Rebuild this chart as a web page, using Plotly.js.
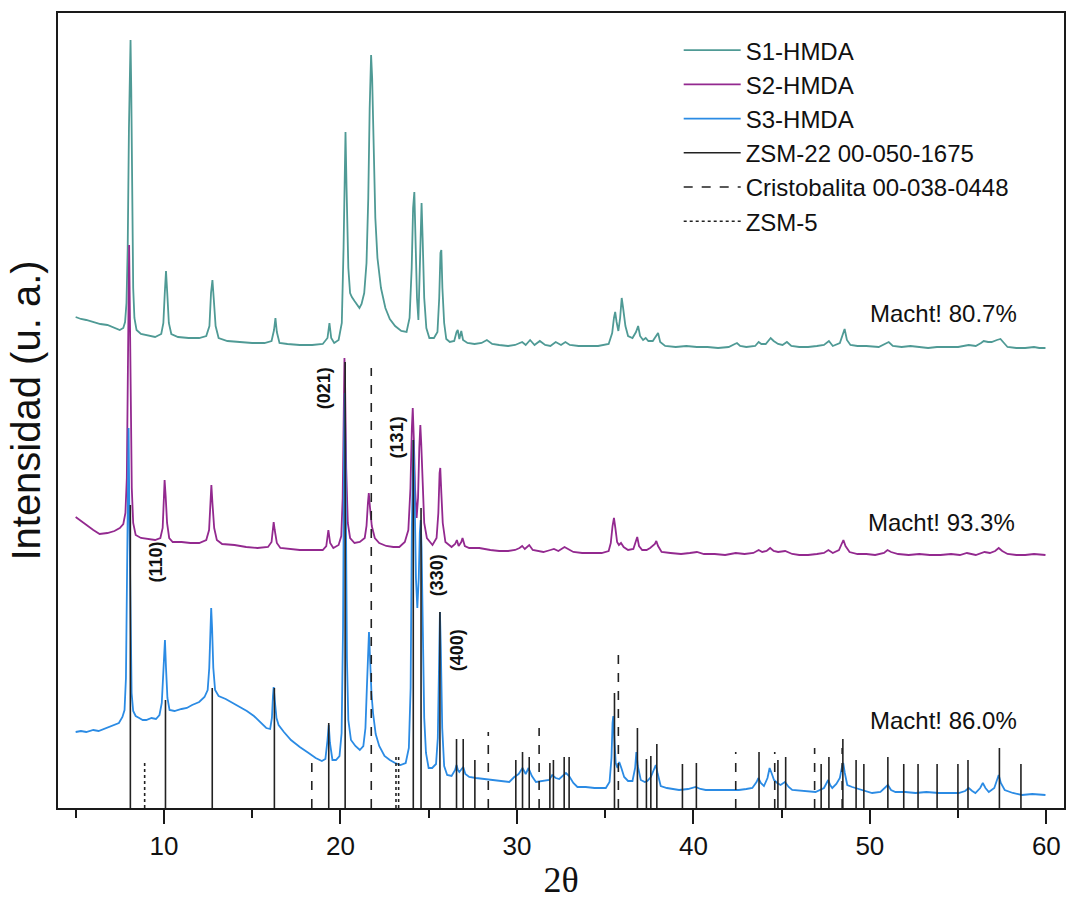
<!DOCTYPE html>
<html>
<head>
<meta charset="utf-8">
<script src="https://cdn.plot.ly/plotly-3.0.1.min.js"></script>
<style>html,body{margin:0;padding:0;background:#fff;}#chart{width:1067px;height:900px;}</style>
</head>
<body>
<div id="chart"></div>
<script>
// ---------- data: [2θ (deg), intensity (a.u.)] ----------
const seriesNames = ["S1-HMDA", "S2-HMDA", "S3-HMDA"];
const refNames = ["ZSM-22 00-050-1675", "Cristobalita 00-038-0448", "ZSM-5"];

const s1Data = [[5.0,491],[5.3,489],[5.6,488],[6.0,486],[6.4,484],[6.8,483],[7.2,480],[7.5,478],[7.7,480],[7.8,486],[7.88,505],[7.95,560],[8.02,680],[8.08,760],[8.11,768],[8.15,720],[8.2,600],[8.26,520],[8.33,490],[8.45,478],[8.7,474],[9.0,473],[9.5,471],[9.85,474],[9.97,485],[10.05,515],[10.12,537],[10.19,515],[10.28,485],[10.42,474],[10.8,471],[11.4,470],[12.0,470],[12.4,472],[12.58,482],[12.67,515],[12.75,528],[12.83,508],[12.93,482],[13.1,470],[13.6,467],[14.3,466],[15.0,465],[15.7,465],[16.1,467],[16.24,478],[16.32,490],[16.4,476],[16.55,465],[17.0,464],[17.7,463],[18.4,463],[19.0,464],[19.27,470],[19.38,485],[19.48,470],[19.65,465],[19.9,468],[20.08,485],[20.18,560],[20.24,650],[20.29,676],[20.35,620],[20.45,540],[20.55,515],[20.65,511],[20.8,507],[20.95,503],[21.08,500],[21.2,504],[21.35,515],[21.48,545],[21.58,610],[21.66,700],[21.74,753],[21.8,730],[21.88,650],[21.98,590],[22.1,550],[22.3,520],[22.55,500],[22.8,489],[23.1,482],[23.45,477],[23.75,476],[23.92,490],[24.04,540],[24.12,600],[24.19,616],[24.26,570],[24.34,510],[24.42,488],[24.49,530],[24.55,590],[24.6,605],[24.66,570],[24.75,510],[24.87,480],[25.04,470],[25.3,470],[25.5,476],[25.6,510],[25.67,555],[25.72,558],[25.78,520],[25.88,485],[26.0,469],[26.2,466],[26.45,467],[26.58,476],[26.65,478],[26.74,469],[26.85,477],[26.95,468],[27.2,465],[27.6,464],[28.0,465],[28.3,468],[28.6,464],[29.0,463],[29.5,462],[29.9,463],[30.3,466],[30.5,463],[30.75,468],[31.0,463],[31.3,467],[31.6,463],[31.9,462],[32.2,466],[32.5,463],[32.75,466],[33.0,463],[33.5,462],[34.0,462],[34.6,462],[35.2,464],[35.4,475],[35.5,490],[35.57,496],[35.65,486],[35.75,477],[35.85,490],[35.94,510],[36.02,500],[36.15,482],[36.3,472],[36.55,470],[36.75,476],[36.87,482],[36.98,472],[37.15,468],[37.3,470],[37.45,467],[37.7,467],[37.9,473],[38.0,475],[38.12,466],[38.4,462],[39.0,461],[39.6,462],[40.2,461],[40.8,461],[41.4,460],[42.0,461],[42.35,464],[42.47,465],[42.65,462],[43.0,461],[43.5,462],[43.7,466],[43.85,464],[44.1,464],[44.38,470],[44.55,467],[44.8,464],[45.05,463],[45.3,466],[45.55,462],[46.0,461],[46.5,461],[47.0,462],[47.4,463],[47.68,467],[47.9,462],[48.3,465],[48.45,472],[48.57,479],[48.7,468],[48.9,463],[49.3,462],[49.8,462],[50.5,461],[50.9,464],[51.07,466],[51.3,462],[51.8,461],[52.3,462],[52.7,461],[53.3,460],[53.8,461],[54.5,461],[55.0,461],[55.6,463],[56.0,462],[56.3,465],[56.45,467],[56.7,466],[56.9,466],[57.2,468],[57.4,469],[57.6,465],[57.8,461],[58.3,460],[58.8,460],[59.3,461],[59.6,460],[59.95,460]];

const s2Data = [[5.0,291],[5.3,287],[5.7,282],[6.0,278],[6.36,274],[6.8,275],[7.2,277],[7.5,280],[7.7,284],[7.82,295],[7.9,330],[7.96,430],[8.0,540],[8.03,563],[8.07,500],[8.12,400],[8.18,320],[8.26,285],[8.4,273],[8.7,270],[9.1,269],[9.5,268],[9.8,270],[9.93,280],[10.0,310],[10.04,328],[10.1,312],[10.18,285],[10.3,270],[10.5,266],[11.0,266],[11.5,265],[12.0,265],[12.4,268],[12.56,278],[12.64,310],[12.69,323],[12.75,305],[12.85,280],[13.0,268],[13.3,264],[14.0,263],[14.66,261],[15.3,260],[15.9,261],[16.1,266],[16.18,280],[16.22,286],[16.28,278],[16.4,265],[16.6,260],[17.2,259],[17.7,258],[18.3,258],[19.0,258],[19.2,262],[19.32,278],[19.42,265],[19.6,260],[19.9,263],[20.05,272],[20.13,310],[20.19,400],[20.23,450],[20.27,420],[20.33,340],[20.42,285],[20.55,270],[20.8,265],[21.1,266],[21.38,270],[21.48,282],[21.56,305],[21.61,315],[21.68,300],[21.78,282],[21.95,270],[22.2,265],[22.6,262],[23.0,261],[23.34,261],[23.65,266],[23.85,278],[23.97,320],[24.05,380],[24.1,400],[24.16,370],[24.23,320],[24.32,290],[24.4,310],[24.47,360],[24.53,383],[24.58,365],[24.66,320],[24.75,285],[24.9,270],[25.22,263],[25.45,270],[25.55,295],[25.62,335],[25.66,340],[25.72,315],[25.8,285],[25.95,266],[26.3,261],[26.5,264],[26.6,268],[26.7,262],[26.85,266],[26.92,270],[27.05,262],[27.3,260],[27.87,260],[28.5,258],[29.0,257],[29.5,257],[29.9,258],[30.15,260],[30.3,262],[30.45,259],[30.7,263],[30.9,258],[31.2,257],[31.5,256],[31.9,258],[32.1,259],[32.35,257],[32.7,261],[32.9,259],[33.2,256],[33.7,255],[34.3,255],[34.8,255],[35.2,257],[35.32,265],[35.42,282],[35.5,290],[35.58,280],[35.68,266],[35.78,263],[35.9,265],[36.05,261],[36.3,258],[36.6,259],[36.75,268],[36.82,271],[36.92,262],[37.1,258],[37.35,258],[37.55,260],[37.82,264],[37.9,267],[38.0,262],[38.2,256],[38.7,255],[39.3,254],[39.8,255],[40.2,256],[40.6,254],[41.2,254],[41.8,253],[42.4,255],[42.9,254],[43.4,255],[43.7,258],[43.9,256],[44.15,257],[44.35,260],[44.55,257],[44.8,256],[45.2,257],[45.6,254],[46.0,253],[46.5,253],[47.0,254],[47.4,255],[47.65,258],[47.9,255],[48.25,258],[48.42,265],[48.5,268],[48.62,262],[48.85,256],[49.3,254],[49.8,254],[50.3,253],[50.8,255],[51.0,258],[51.2,256],[51.6,254],[52.2,253],[52.8,254],[53.4,253],[54.0,253],[54.6,254],[55.1,253],[55.5,255],[56.0,253],[56.3,255],[56.5,256],[56.8,255],[57.1,257],[57.3,260],[57.5,257],[57.8,254],[58.3,253],[58.8,253],[59.3,254],[59.95,253]];

const s3Data = [[5.0,76],[5.3,77],[5.6,76],[6.0,78],[6.3,77],[6.6,79],[6.9,81],[7.2,83],[7.45,85],[7.65,91],[7.77,98],[7.85,130],[7.92,250],[7.97,370],[8.0,380],[8.04,300],[8.1,180],[8.17,115],[8.26,97],[8.4,92],[8.6,90],[8.8,88],[9.0,88],[9.3,90],[9.55,89],[9.75,93],[9.88,105],[9.96,140],[10.02,165],[10.06,168],[10.12,140],[10.2,110],[10.32,98],[10.6,97],[11.0,99],[11.3,100],[11.6,103],[12.0,106],[12.3,111],[12.48,118],[12.57,140],[12.64,185],[12.68,200],[12.73,180],[12.8,140],[12.9,118],[13.1,112],[13.5,109],[13.9,105],[14.3,101],[14.7,97],[15.1,92],[15.5,85],[15.8,80],[16.02,79],[16.12,90],[16.18,112],[16.22,121],[16.28,108],[16.38,90],[16.5,83],[16.8,76],[17.2,68],[17.7,61],[18.2,55],[18.6,50],[18.95,47],[19.15,49],[19.27,68],[19.34,83],[19.41,65],[19.55,48],[19.75,48],[19.95,52],[20.07,75],[20.15,180],[20.21,360],[20.25,415],[20.3,330],[20.37,150],[20.45,88],[20.6,68],[20.85,62],[21.1,58],[21.3,62],[21.42,80],[21.5,120],[21.58,170],[21.62,176],[21.68,150],[21.76,115],[21.85,95],[22.0,74],[22.2,62],[22.5,52],[22.8,48],[23.1,45],[23.4,43],[23.7,45],[23.88,60],[23.98,120],[24.05,280],[24.1,360],[24.14,368],[24.2,320],[24.28,230],[24.36,200],[24.44,230],[24.5,275],[24.55,288],[24.6,260],[24.67,160],[24.75,90],[24.85,55],[25.0,40],[25.2,40],[25.42,44],[25.52,70],[25.59,150],[25.64,196],[25.69,160],[25.77,80],[25.88,42],[26.05,33],[26.3,32],[26.5,38],[26.58,43],[26.66,38],[26.74,36],[26.88,40],[26.96,41],[27.08,34],[27.3,31],[27.68,30],[28.1,29],[28.62,28],[29.1,27],[29.57,26],[29.85,31],[30.1,34],[30.32,40],[30.5,34],[30.66,40],[30.85,32],[31.08,26],[31.5,27],[31.83,28],[32.0,33],[32.2,30],[32.4,29],[32.65,33],[32.78,35],[32.96,32],[33.2,25],[33.43,21],[33.9,21],[34.4,20],[35.04,20],[35.25,26],[35.36,50],[35.42,85],[35.46,92],[35.52,70],[35.6,45],[35.7,40],[35.8,46],[35.92,40],[36.08,31],[36.3,27],[36.55,27],[36.7,40],[36.77,56],[36.85,42],[37.02,28],[37.25,26],[37.39,27],[37.59,31],[37.78,38],[37.87,43],[37.97,35],[38.15,22],[38.5,20],[39.19,18],[39.7,19],[40.13,21],[40.4,19],[40.7,18],[41.3,18],[42.0,18],[42.58,18],[43.0,19],[43.34,20],[43.58,26],[43.68,30],[43.82,25],[44.0,22],[44.2,30],[44.32,40],[44.45,34],[44.57,28],[44.75,25],[44.94,23],[45.19,26],[45.4,21],[45.6,18],[46.2,17],[46.92,16],[47.4,20],[47.55,25],[47.64,28],[47.75,23],[47.87,20],[48.1,24],[48.3,30],[48.43,42],[48.49,45],[48.58,35],[48.72,23],[49.0,21],[49.19,20],[49.6,18],[50.13,15],[50.6,16],[50.9,21],[51.02,23],[51.2,18],[51.45,16],[52.0,16],[52.59,15],[53.2,16],[53.9,15],[54.5,15],[55.03,15],[55.4,17],[55.6,20],[55.8,17],[55.98,15],[56.25,20],[56.4,25],[56.55,20],[56.74,16],[57.05,20],[57.2,28],[57.3,33],[57.42,25],[57.64,18],[58.1,15],[58.62,13],[59.2,14],[59.95,13]];

// reference patterns (stick positions and relative heights)
const zsm22Pos = [8.10,10.09,12.74,16.26,19.34,20.27,24.13,24.57,25.64,26.58,26.96,27.62,29.94,30.32,30.70,31.87,32.07,32.68,32.96,35.53,36.83,37.34,37.59,37.93,39.38,40.17,43.72,44.79,45.23,47.24,47.68,48.47,49.22,49.66,51.02,51.92,52.73,53.81,54.99,55.56,57.34,58.56];
const zsm22Int = [303,108,120,120,85,446,368,300,196,69,69,48,48,56,51,45,48,51,51,115,80,49,52,64,44,45,56,48,51,44,51,69,48,44,51,44,44,44,44,48,60,44];
const cristPos = [18.38,21.75,28.38,31.26,35.75,42.40,44.61,46.87,48.43];
const cristInt = [45,440,76,80,160,56,56,60,60];
const zsm5Pos = [8.91,23.15,23.30];
const zsm5Int = [45,52,52];

const xTickVals = [10,20,30,40,50,60];
const xTickText = ["10","20","30","40","50","60"];
const xMinorTicks = [5,15,25,35,45,55];
const millerLabels = ["(110)","(021)","(131)","(330)","(400)"];
const crystLabels = ["Macht! 80.7%","Macht! 93.3%","Macht! 86.0%"];

// ---------- build ----------
function sticks(pos, h) {
  const xs = [], ys = [];
  for (let i = 0; i < pos.length; i++) { xs.push(pos[i], pos[i], null); ys.push(0, h[i], null); }
  return {x: xs, y: ys};
}
const colors = ["#4f9a95", "#93298f", "#2b8be4"];
const traces = [];
[s1Data, s2Data, s3Data].forEach((d, i) => {
  traces.push({type: "scatter", mode: "lines", x: d.map(p => p[0]), y: d.map(p => p[1]), name: seriesNames[i],
    line: {color: colors[i], width: 1.8}, hoverinfo: "skip"});
});
const st = [sticks(zsm22Pos, zsm22Int), sticks(cristPos, cristInt), sticks(zsm5Pos, zsm5Int)];
const dashes = ["solid", "dash", "dot"];
st.forEach((s, i) => {
  traces.push({type: "scatter", mode: "lines", x: s.x, y: s.y, name: refNames[i], connectgaps: false,
    line: {color: "#222222", width: 1.6, dash: dashes[i]}, hoverinfo: "skip"});
});

const millerPos = [[9.58,246],[19.09,420],[23.23,371],[25.49,233],[26.62,158]];
const crystPos = [[54.19,495],[54.07,286],[54.19,88]];
const annotations = [];
millerLabels.forEach((t, i) => annotations.push({x: millerPos[i][0], y: millerPos[i][1], xref: "x", yref: "y",
  text: "<b>" + t + "</b>", showarrow: false, textangle: -90,
  font: {family: "Liberation Sans, Arial, sans-serif", size: 18, color: "#111"}}));
crystLabels.forEach((t, i) => annotations.push({x: crystPos[i][0], y: crystPos[i][1], xref: "x", yref: "y",
  text: t, showarrow: false, font: {family: "Liberation Sans, Arial, sans-serif", size: 24, color: "#111"}}));

const layout = {
  width: 1067, height: 900,
  margin: {l: 58, r: 3, t: 13, b: 92},
  paper_bgcolor: "#ffffff", plot_bgcolor: "#ffffff",
  showlegend: true,
  legend: {x: 0.617, y: 0.981, xanchor: "left", yanchor: "top", bgcolor: "rgba(0,0,0,0)",
    font: {family: "Liberation Sans, Arial, sans-serif", size: 24, color: "#111"},
    itemwidth: 57, tracegroupgap: 0},
  xaxis: {range: [4, 61], showgrid: false, zeroline: false, showline: true, mirror: true,
    linecolor: "#1a1a1a", linewidth: 2, ticks: "outside", ticklen: 14, tickwidth: 2, tickcolor: "#1a1a1a",
    tickvals: xTickVals, ticktext: xTickText,
    tickfont: {family: "Liberation Sans, Arial, sans-serif", size: 26, color: "#111"},
    minor: {tickvals: xMinorTicks, ticks: "outside", ticklen: 8, tickwidth: 2, tickcolor: "#1a1a1a"},
    title: {text: "2θ", font: {family: "Liberation Serif, Times New Roman, serif", size: 36, color: "#111"}, standoff: 8}},
  yaxis: {range: [0, 795], showgrid: false, zeroline: false, showline: true, mirror: true,
    linecolor: "#1a1a1a", linewidth: 2, ticks: "", showticklabels: false,
    title: {text: "Intensidad (u. a.)", font: {family: "Liberation Sans, Arial, sans-serif", size: 40, color: "#111"}, standoff: 3}},
  annotations: annotations
};
Plotly.newPlot("chart", traces, layout, {displayModeBar: false, staticPlot: true});
</script>
</body>
</html>
